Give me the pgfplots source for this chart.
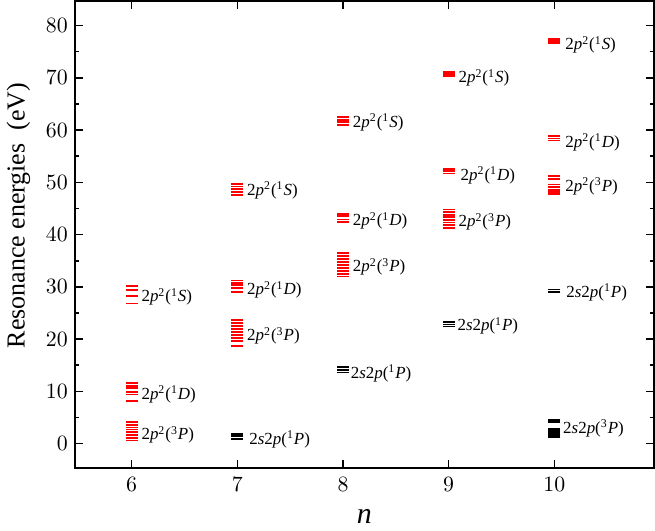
\documentclass[border=0pt]{standalone}
\usepackage{fontspec}
\setmainfont{Liberation Serif}
\usepackage{pgfplots}
\usepackage{pgfplotstable}
\pgfplotsset{compat=1.18}
\pgfplotstableread{
n E
6 30.1
6 29.4
6 28.2
6 26.8
6 11.6
6 11.1
6 10.7
6 9.9
6 9.4
6 8.1
6 4.1
6 3.6
6 3.1
6 2.7
6 2.2
6 1.7
6 1.1
6 0.6
7 49.7
7 49.2
7 48.7
7 48.2
7 47.6
7 31.2
7 30.7
7 30.3
7 29.8
7 29.0
7 23.7
7 23.1
7 22.5
7 21.9
7 21.4
7 20.8
7 20.2
7 19.7
7 18.7
8 62.5
8 62.0
8 61.5
8 60.9
8 44.0
8 43.5
8 42.9
8 42.4
8 36.5
8 35.9
8 35.3
8 34.7
8 34.2
8 33.6
8 33.0
8 32.4
8 32.0
9 71.1
9 70.7
9 70.3
9 52.5
9 52.1
9 51.7
9 44.8
9 44.3
9 43.8
9 43.3
9 42.8
9 42.3
9 41.8
9 41.3
10 77.5
10 77.1
10 76.7
10 58.8
10 58.4
10 58.0
10 51.2
10 50.7
10 49.6
10 49.1
10 48.6
10 48.1
10 47.7
}\redlevels
\pgfplotstableread{
n E
7 1.9
7 1.4
7 0.9
8 14.6
8 14.1
8 13.6
9 23.3
9 22.8
9 22.4
10 29.5
10 29.0
10 4.6
10 4.2
10 2.8
10 2.4
10 2.0
10 1.6
10 1.2
}\blacklevels
\begin{document}
\begin{tikzpicture}
\begin{axis}[
  scale only axis,
  width=290.5pt, height=234pt,
  xmin=5.462, xmax=10.943,
  ymin=-4.58, ymax=84.7,
  xtick={6,7,8,9,10},
  ytick={0,10,...,80},
  minor ytick={-5,5,15,...,85},
  tick align=inside,
  major tick length=4pt,
  minor tick length=2pt,
  axis line style={line width=1pt},
  every tick/.style={line width=0.8pt, black},
  tick label style={font=\fontsize{11}{13}\selectfont},
  xticklabel style={yshift=-1.5pt},
  xlabel={\fontsize{15}{17}\selectfont\textit{n}},
  ylabel={\fontsize{13}{15}\selectfont Resonance energies\ \ (eV)},
  xlabel style={yshift=-2pt},
  ylabel style={at={(ticklabel cs:0.54)}, yshift=1pt},
  clip=false,
]
\addplot[only marks, mark=-, mark size=3pt, red, mark options={line width=0.9pt}] table[x=n,y=E] {\redlevels};
\addplot[only marks, mark=-, mark size=3pt, black, mark options={line width=0.9pt}] table[x=n,y=E] {\blacklevels};
\tikzset{lbl/.style={anchor=west, font=\fontsize{8.5}{10}\selectfont, inner sep=0pt}}
\node[lbl] at (axis cs:6.09,28.1) {2\textit{p}\textsuperscript{2}(\textsuperscript{1}\textit{S})};
\node[lbl] at (axis cs:6.09,9.4) {2\textit{p}\textsuperscript{2}(\textsuperscript{1}\textit{D})};
\node[lbl] at (axis cs:6.09,1.7) {2\textit{p}\textsuperscript{2}(\textsuperscript{3}\textit{P})};
\node[lbl] at (axis cs:7.09,48.5) {2\textit{p}\textsuperscript{2}(\textsuperscript{1}\textit{S})};
\node[lbl] at (axis cs:7.09,29.4) {2\textit{p}\textsuperscript{2}(\textsuperscript{1}\textit{D})};
\node[lbl] at (axis cs:7.09,20.6) {2\textit{p}\textsuperscript{2}(\textsuperscript{3}\textit{P})};
\node[lbl] at (axis cs:7.11,0.8) {2\textit{s}2\textit{p}(\textsuperscript{1}\textit{P})};
\node[lbl] at (axis cs:8.09,61.5) {2\textit{p}\textsuperscript{2}(\textsuperscript{1}\textit{S})};
\node[lbl] at (axis cs:8.09,42.6) {2\textit{p}\textsuperscript{2}(\textsuperscript{1}\textit{D})};
\node[lbl] at (axis cs:8.09,33.8) {2\textit{p}\textsuperscript{2}(\textsuperscript{3}\textit{P})};
\node[lbl] at (axis cs:8.07,13.4) {2\textit{s}2\textit{p}(\textsuperscript{1}\textit{P})};
\node[lbl] at (axis cs:9.09,70.0) {2\textit{p}\textsuperscript{2}(\textsuperscript{1}\textit{S})};
\node[lbl] at (axis cs:9.11,51.3) {2\textit{p}\textsuperscript{2}(\textsuperscript{1}\textit{D})};
\node[lbl] at (axis cs:9.09,42.4) {2\textit{p}\textsuperscript{2}(\textsuperscript{3}\textit{P})};
\node[lbl] at (axis cs:9.08,22.5) {2\textit{s}2\textit{p}(\textsuperscript{1}\textit{P})};
\node[lbl] at (axis cs:10.1,76.3) {2\textit{p}\textsuperscript{2}(\textsuperscript{1}\textit{S})};
\node[lbl] at (axis cs:10.1,57.6) {2\textit{p}\textsuperscript{2}(\textsuperscript{1}\textit{D})};
\node[lbl] at (axis cs:10.1,49.2) {2\textit{p}\textsuperscript{2}(\textsuperscript{3}\textit{P})};
\node[lbl] at (axis cs:10.11,29.0) {2\textit{s}2\textit{p}(\textsuperscript{1}\textit{P})};
\node[lbl] at (axis cs:10.08,2.9) {2\textit{s}2\textit{p}(\textsuperscript{3}\textit{P})};
\end{axis}
\end{tikzpicture}
\end{document}
